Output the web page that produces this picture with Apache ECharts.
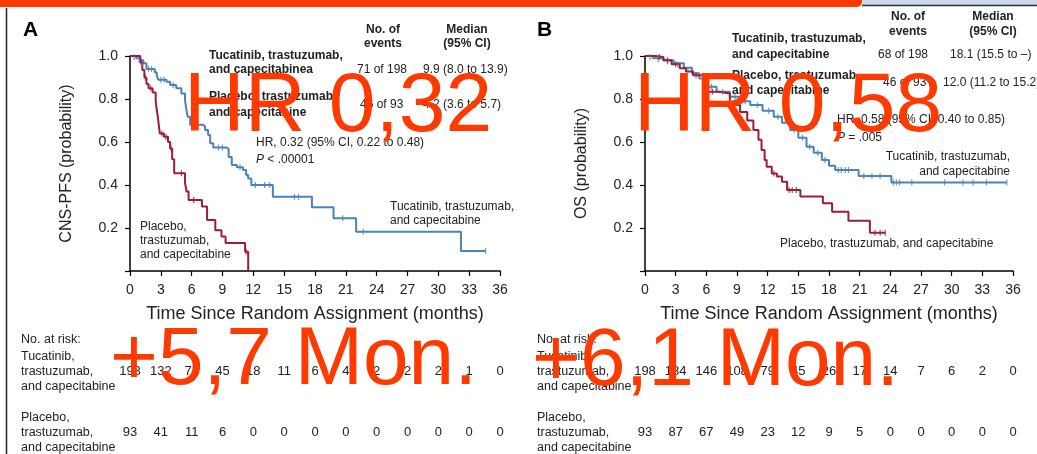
<!DOCTYPE html>
<html>
<head>
<meta charset="utf-8">
<script src="https://cdn.jsdelivr.net/npm/echarts@6/dist/echarts.min.js"></script>
<style>
  html, body { margin: 0; padding: 0; background: #fff; }
  #chart { width: 1037px; height: 454px; }
</style>
</head>
<body>
<div id="chart"></div>
<script>
// Time axis ticks (months)
const monthTicks = [0, 3, 6, 9, 12, 15, 18, 21, 24, 27, 30, 33, 36];

// Panel A: CNS progression-free survival, Kaplan-Meier steps [month, probability]
const cnsTucatinib = [
  [0, 1], [0.6, 0.99], [1.0, 0.98], [1.3, 0.966], [1.6, 0.94], [2.4, 0.925], [2.6, 0.91],
  [2.75, 0.89], [3.55, 0.88], [3.9, 0.865], [4.5, 0.85], [5.0, 0.826], [5.35, 0.795],
  [5.45, 0.764], [5.6, 0.718], [5.85, 0.68], [7.1, 0.674], [7.3, 0.656], [7.6, 0.633],
  [7.8, 0.594], [8.1, 0.574], [9.4, 0.567], [9.6, 0.53], [9.9, 0.493], [10.4, 0.482],
  [11.0, 0.47], [11.3, 0.447], [11.5, 0.43], [11.8, 0.4], [13.9, 0.345], [17.7, 0.296],
  [19.8, 0.245], [22.0, 0.183], [32.2, 0.093], [34.6, 0.093]
];
const cnsPlacebo = [
  [0, 1], [1.0, 0.97], [1.2, 0.935], [1.4, 0.9], [1.6, 0.87], [1.8, 0.85], [2.2, 0.83],
  [2.5, 0.79], [2.6, 0.75], [2.7, 0.72], [2.8, 0.68], [2.9, 0.64], [3.3, 0.625], [3.7, 0.6],
  [3.9, 0.57], [4.1, 0.52], [4.3, 0.455], [5.35, 0.41], [5.5, 0.37], [5.7, 0.33], [7.0, 0.30],
  [7.5, 0.237], [8.3, 0.19], [8.9, 0.16], [9.3, 0.13], [11.2, 0.09], [11.5, 0]
];
// Censored observations (tick marks)
const cnsTucatinibCensored = [
  [0.4, 0.995], [0.9, 0.98], [1.2, 0.966], [1.8, 0.94], [2.1, 0.94], [3.0, 0.89], [3.3, 0.89],
  [4.2, 0.865], [6.2, 0.68], [6.6, 0.68], [8.6, 0.574], [9.0, 0.574], [10.7, 0.482],
  [12.2, 0.4], [13.1, 0.4], [13.6, 0.4], [16.0, 0.345], [16.4, 0.345], [20.7, 0.245],
  [22.7, 0.183], [34.6, 0.093]
];
const cnsPlaceboCensored = [
  [1.1, 0.97], [1.5, 0.9], [2.0, 0.85], [3.1, 0.64], [3.5, 0.625], [4.0, 0.57], [5.0, 0.455],
  [6.2, 0.33], [11.3, 0.09]
];

// Panel B: overall survival
const osTucatinib = [
  [0, 1], [0.8, 0.99], [1.8, 0.98], [2.8, 0.966], [3.8, 0.945], [4.6, 0.92], [5.3, 0.895],
  [5.7, 0.875], [6.0, 0.857], [7.0, 0.834], [8.3, 0.81], [9.3, 0.79], [10.3, 0.772],
  [11.5, 0.745], [12.6, 0.718], [13.4, 0.69], [14.2, 0.656], [15.0, 0.62], [15.8, 0.578],
  [16.5, 0.55], [17.3, 0.516], [18.0, 0.49], [18.6, 0.47], [20.9, 0.442], [24.1, 0.412],
  [35.4, 0.412]
];
const osPlacebo = [
  [0, 1], [1.0, 0.995], [1.8, 0.98], [2.6, 0.962], [3.4, 0.943], [4.0, 0.928], [4.7, 0.91],
  [5.9, 0.88], [6.0, 0.834], [7.2, 0.826], [8.3, 0.772], [9.3, 0.74], [10.0, 0.70],
  [10.6, 0.656], [11.1, 0.61], [11.4, 0.563], [11.7, 0.516], [11.9, 0.485], [12.4, 0.454],
  [12.9, 0.44], [13.4, 0.415], [13.9, 0.377], [15.2, 0.346], [17.4, 0.315], [18.3, 0.276],
  [19.9, 0.234], [22.0, 0.178], [23.5, 0.178]
];
const osTucatinibCensored = [
  [0.5, 0.995], [1.3, 0.985], [2.2, 0.975], [3.2, 0.96], [4.2, 0.935], [6.5, 0.857],
  [7.6, 0.834], [8.8, 0.81], [9.8, 0.79], [11.0, 0.772], [12.1, 0.745], [13.0, 0.718],
  [14.6, 0.656], [15.4, 0.62], [16.1, 0.578], [16.9, 0.55], [17.6, 0.516], [18.9, 0.47],
  [19.2, 0.47], [19.6, 0.47], [19.9, 0.47], [21.4, 0.442], [22.2, 0.442], [23.0, 0.442],
  [24.3, 0.412], [24.6, 0.412], [24.9, 0.412], [26.1, 0.412], [29.3, 0.412], [31.1, 0.412],
  [32.1, 0.412], [33.4, 0.412], [35.4, 0.412]
];
const osPlaceboCensored = [
  [1.4, 0.995], [2.2, 0.98], [3.0, 0.962], [5.0, 0.91], [6.6, 0.834], [12.6, 0.454],
  [14.1, 0.377], [14.4, 0.377], [14.8, 0.377], [22.5, 0.178], [23.0, 0.178], [23.5, 0.178]
];

// Numbers at risk at each tick
const atRiskCnsTucatinib = [198, 132, 74, 45, 18, 11, 6, 4, 2, 2, 2, 1, 0];
const atRiskCnsPlacebo = [93, 41, 11, 6, 0, 0, 0, 0, 0, 0, 0, 0, 0];
const atRiskOsTucatinib = [198, 184, 146, 108, 79, 45, 26, 17, 14, 7, 6, 2, 0];
const atRiskOsPlacebo = [93, 87, 67, 49, 23, 12, 9, 5, 0, 0, 0, 0, 0];

const BLUE = '#4a82b9';
const RED = '#9c1e34';
const ORANGE = '#ff3a00';
const FONT = '"Liberation Sans", Arial, Helvetica, sans-serif';
const INK = '#222';

const chart = echarts.init(document.getElementById('chart'), null, { renderer: 'canvas' });

function mainX(grid) {
  return {
    type: 'value', gridIndex: grid, min: 0, max: 36, interval: 3,
    name: 'Time Since Random Assignment (months)', nameLocation: 'middle', nameGap: 34,
    nameTextStyle: { fontFamily: FONT, fontSize: 18, color: INK },
    axisLine: { lineStyle: { color: '#000', width: 1.5 } },
    axisTick: { show: true, length: 5, lineStyle: { color: '#000', width: 1.2 } },
    axisLabel: { margin: 12, fontFamily: FONT, fontSize: 14, color: INK,
      formatter: v => monthTicks.indexOf(v) >= 0 ? String(v) : '' },
    splitLine: { show: false }
  };
}
function riskX(grid, counts, margin) {
  return {
    type: 'value', gridIndex: grid, min: 0, max: 36, interval: 3, position: 'bottom',
    axisLine: { show: false }, axisTick: { show: false }, splitLine: { show: false },
    axisLabel: { margin: margin, fontFamily: FONT, fontSize: 13, color: INK,
      formatter: v => String(counts[monthTicks.indexOf(v)]) }
  };
}
function mainY(grid, title) {
  return {
    type: 'value', gridIndex: grid, min: 0, max: 1, interval: 0.2,
    name: title, nameLocation: 'middle', nameGap: 55, nameRotate: 90,
    nameTextStyle: { fontFamily: FONT, fontSize: 16, color: INK },
    axisLine: { show: true, lineStyle: { color: '#000', width: 1.5 } },
    axisTick: { show: true, length: 5, lineStyle: { color: '#000', width: 1.2 } },
    axisLabel: { margin: 12, fontFamily: FONT, fontSize: 14, color: INK,
      formatter: v => v === 0 ? '' : v.toFixed(1) },
    splitLine: { show: false }
  };
}
function kmLine(data, color, xi, yi) {
  return { type: 'line', data, step: 'end', xAxisIndex: xi, yAxisIndex: yi,
    showSymbol: false, symbol: 'none', lineStyle: { color, width: 2 }, z: 3, silent: true };
}
function censor(data, color, xi, yi) {
  return { type: 'scatter', data, xAxisIndex: xi, yAxisIndex: yi, symbol: 'rect',
    symbolSize: [1.2, 6], itemStyle: { color }, z: 4, silent: true };
}

function txt(x, y, text, opt) {
  return {
    type: 'text', x, y, silent: true,
    style: Object.assign({ text, fontFamily: FONT, fontSize: 12, fill: INK,
      textVerticalAlign: 'middle', verticalAlign: 'middle' }, opt || {})
  };
}
const bold = { fontWeight: 'bold' };
const ctrBold = { fontWeight: 'bold', textAlign: 'center', align: 'center' };
const italicRich = { rich: { i: { fontStyle: 'italic', fontFamily: FONT, fontSize: 12, fill: INK } } };

const graphics = [
  // frame decorations
  { type: 'rect', shape: { x: 0, y: 0, width: 862, height: 7, r: [0, 0, 5, 0] }, style: { fill: ORANGE }, silent: true },
  { type: 'rect', shape: { x: 862, y: 0, width: 175, height: 5 }, style: { fill: '#c9d8ea' }, silent: true },
  { type: 'line', shape: { x1: 862, y1: 5.5, x2: 1037, y2: 5.5 }, style: { stroke: '#333', lineWidth: 1.5 }, silent: true },
  { type: 'line', shape: { x1: 6.5, y1: 8, x2: 6.5, y2: 454 }, style: { stroke: '#222', lineWidth: 1.5 }, silent: true },

  // Panel A
  txt(23, 30, 'A', { fontSize: 21, fontWeight: 'bold', fill: '#000' }),
  txt(383, 30, 'No. of', ctrBold), txt(383, 44, 'events', ctrBold),
  txt(467, 30, 'Median', ctrBold), txt(467, 44, '(95% CI)', ctrBold),
  txt(209, 56, 'Tucatinib, trastuzumab,', bold), txt(209, 70, 'and capecitabinea', bold),
  txt(357, 70, '71 of 198'), txt(423, 70, '9.9 (8.0 to 13.9)'),
  txt(209, 97, 'Placebo, trastuzumab', bold), txt(209, 113, 'and capecitabine', bold),
  txt(360, 105, '46 of 93'), txt(423, 105, '4.2 (3.6 to 5.7)'),
  txt(256, 143, 'HR, 0.32 (95% CI, 0.22 to 0.48)'),
  txt(256, 160, '{i|P} < .00001', italicRich),
  txt(390, 207, 'Tucatinib, trastuzumab,'), txt(390, 221, 'and capecitabine'),
  txt(140, 227, 'Placebo,'), txt(140, 241, 'trastuzumab,'), txt(140, 255, 'and capecitabine'),
  txt(21, 340, 'No. at risk:', { fontSize: 12.5 }),
  txt(21, 357, 'Tucatinib,', { fontSize: 12.5 }), txt(21, 372, 'trastuzumab,', { fontSize: 12.5 }),
  txt(21, 387, 'and capecitabine', { fontSize: 12.5 }),
  txt(21, 418, 'Placebo,', { fontSize: 12.5 }), txt(21, 433, 'trastuzumab,', { fontSize: 12.5 }),
  txt(21, 448, 'and capecitabine', { fontSize: 12.5 }),

  // Panel B
  txt(537, 30, 'B', { fontSize: 21, fontWeight: 'bold', fill: '#000' }),
  txt(908, 17, 'No. of', ctrBold), txt(908, 32, 'events', ctrBold),
  txt(993, 17, 'Median', ctrBold), txt(993, 32, '(95% CI)', ctrBold),
  txt(732, 39, 'Tucatinib, trastuzumab,', bold), txt(732, 55, 'and capecitabine', bold),
  txt(878, 55, '68 of 198'), txt(950, 55, '18.1 (15.5 to \u2013)'),
  txt(732, 76, 'Placebo, trastuzumab', bold), txt(732, 91, 'and capecitabine', bold),
  txt(883, 83, '46 of 93'), txt(943, 83, '12.0 (11.2 to 15.2)'),
  txt(837, 120, 'HR, 0.58 (95% CI, 0.40 to 0.85)'),
  txt(837, 138, '{i|P} = .005', italicRich),
  txt(1010, 157, 'Tucatinib, trastuzumab,', { textAlign: 'right', align: 'right' }),
  txt(1010, 172, 'and capecitabine', { textAlign: 'right', align: 'right' }),
  txt(780, 244, 'Placebo, trastuzumab, and capecitabine'),
  txt(537, 340, 'No. at risk:', { fontSize: 12.5 }),
  txt(537, 357, 'Tucatinib,', { fontSize: 12.5 }), txt(537, 372, 'trastuzumab,', { fontSize: 12.5 }),
  txt(537, 387, 'and capecitabine', { fontSize: 12.5 }),
  txt(537, 418, 'Placebo,', { fontSize: 12.5 }), txt(537, 433, 'trastuzumab,', { fontSize: 12.5 }),
  txt(537, 448, 'and capecitabine', { fontSize: 12.5 }),
];

// Highlighted callouts drawn on top
const callouts = [
  { x: 184, y: 150, text: 'HR 0,32', size: 84 },
  { x: 634, y: 150, text: 'HR 0,58', size: 84 },
  { x: 110, y: 402, text: '+5,7 Mon.', size: 82 },
  { x: 532, y: 403, text: '+6,1 Mon.', size: 82 },
];
callouts.forEach(c => graphics.push({
  type: 'text', x: c.x, y: c.y, z: 100, silent: true,
  style: { text: c.text, fontFamily: FONT, fontSize: c.size, fill: ORANGE,
    textVerticalAlign: 'bottom', verticalAlign: 'bottom' }
}));

chart.setOption({
  animation: false,
  backgroundColor: '#fff',
  grid: [
    { left: 130, top: 56, width: 370, height: 215 },
    { left: 645, top: 56, width: 368, height: 215 }
  ],
  xAxis: [
    mainX(0), riskX(0, atRiskCnsTucatinib, 94), riskX(0, atRiskCnsPlacebo, 155),
    mainX(1), riskX(1, atRiskOsTucatinib, 94), riskX(1, atRiskOsPlacebo, 155)
  ],
  yAxis: [mainY(0, 'CNS-PFS (probability)'), mainY(1, 'OS (probability)')],
  series: [
    kmLine(cnsTucatinib, BLUE, 0, 0), kmLine(cnsPlacebo, RED, 0, 0),
    censor(cnsTucatinibCensored, BLUE, 0, 0), censor(cnsPlaceboCensored, RED, 0, 0),
    kmLine(osTucatinib, BLUE, 3, 1), kmLine(osPlacebo, RED, 3, 1),
    censor(osTucatinibCensored, BLUE, 3, 1), censor(osPlaceboCensored, RED, 3, 1)
  ],
  graphic: graphics
});
</script>
</body>
</html>
